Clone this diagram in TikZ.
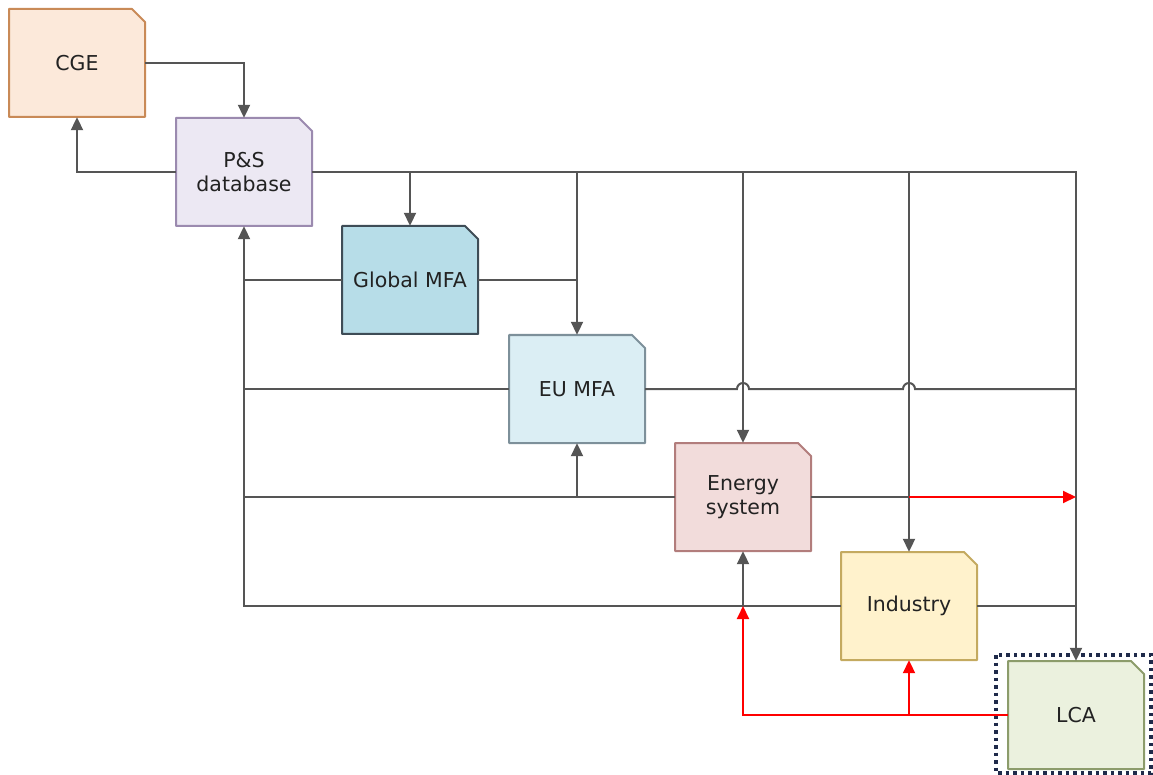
\documentclass[tikz,border=0pt]{standalone}
\usepackage{fontspec}
\setmainfont{DejaVu Sans}
\usetikzlibrary{arrows.meta,calc}
\definecolor{lnc}{HTML}{555555}
\definecolor{txc}{HTML}{222222}
\definecolor{redc}{HTML}{FF0000}
\definecolor{navy}{HTML}{1F2A4A}
\tikzset{
  cardtext/.style={inner sep=0pt, minimum width=136pt, minimum height=108pt, align=center, text=txc, font=\fontsize{20.5}{24}\selectfont},
  conn/.style={draw=lnc, line width=2pt},
  redconn/.style={draw=redc, line width=2pt},
  arr/.style={-{Triangle[length=13pt,width=12pt]}},
}
\newcommand\mycard[6]{%
  \definecolor{cardfill}{HTML}{#4}\definecolor{carddraw}{HTML}{#5}%
  \filldraw[fill=cardfill, draw=carddraw, line width=2pt, line join=round]
    ({#2-68},{#3-54}) -- ({#2+55},{#3-54}) -- ({#2+68},{#3-41}) -- ({#2+68},{#3+54}) -- ({#2-68},{#3+54}) -- cycle;
  \node[cardtext] (#1) at (#2,#3) {#6};
}
\begin{document}
\begin{tikzpicture}[x=1pt,y=-1pt]
\useasboundingbox (0,0) rectangle (1153,775);
% boxes
\mycard{cge}{77}{63}{FCE9DA}{C98A57}{CGE}
\mycard{ps}{244}{172}{ECE8F3}{9B8AAF}{P\&S\\database}
\mycard{gmfa}{410}{280}{B7DDE8}{3E4C56}{Global MFA}
\mycard{eumfa}{577}{389}{DBEEF4}{7D909A}{EU MFA}
\mycard{energy}{743}{497}{F2DCDB}{B27D7C}{Energy\\system}
\mycard{industry}{909}{606}{FFF2CC}{C4AA60}{Industry}
\mycard{lca}{1076}{715}{EBF1DE}{8C9C6B}{LCA}
\draw[navy, line width=3.5pt, dash pattern=on 3.5pt off 4pt] (996,655) rectangle (1151,773);
% CGE <-> P&S
\draw[conn,arr] (cge.east) -| (ps.north);
\draw[conn,arr] (ps.west) -| (cge.south);
% bus from P&S
\draw[conn,arr] (ps.east) -| (lca.north);
\draw[conn,arr] (ps.east -| gmfa.north) -- (gmfa.north);
\draw[conn,arr] (ps.east -| eumfa.north) -- (eumfa.north);
\draw[conn,arr] (ps.east -| energy.north) -- (energy.north);
\draw[conn,arr] (ps.east -| industry.north) -- (industry.north);
% feedback to P&S
\draw[conn,arr] (industry.west) -| (ps.south);
\draw[conn] (gmfa.west) -- (gmfa.west -| ps.south);
\draw[conn] (eumfa.west) -- (eumfa.west -| ps.south);
\draw[conn] (energy.west) -- (energy.west -| ps.south);
\draw[conn] (gmfa.east) -- (gmfa.east -| eumfa.north);
% energy -> EU MFA
\draw[conn,arr] (energy.west -| eumfa.south) -- (eumfa.south);
% EU MFA right with jumps
\draw[conn] (eumfa.east) -- ($(eumfa.east -| energy.north)+(-6,0)$)
  arc[start angle=180,end angle=0,radius=6pt]
  -- ($(eumfa.east -| industry.north)+(-6,0)$)
  arc[start angle=180,end angle=0,radius=6pt]
  -- (eumfa.east -| lca.north);
% energy right
\draw[conn] (energy.east) -- (energy.east -| industry.north);
\draw[redconn,arr] (energy.east -| industry.north) -- (energy.east -| lca.north);
% industry right
\draw[conn] (industry.east) -- (industry.east -| lca.north);
% industry -> energy
\draw[conn,arr] (industry.west -| energy.south) -- (energy.south);
% LCA red feedback
\draw[redconn,arr] (lca.west) -- (lca.west -| energy.south) -- (industry.west -| energy.south);
\draw[redconn,arr] (lca.west -| industry.south) -- (industry.south);
\end{tikzpicture}
\end{document}
